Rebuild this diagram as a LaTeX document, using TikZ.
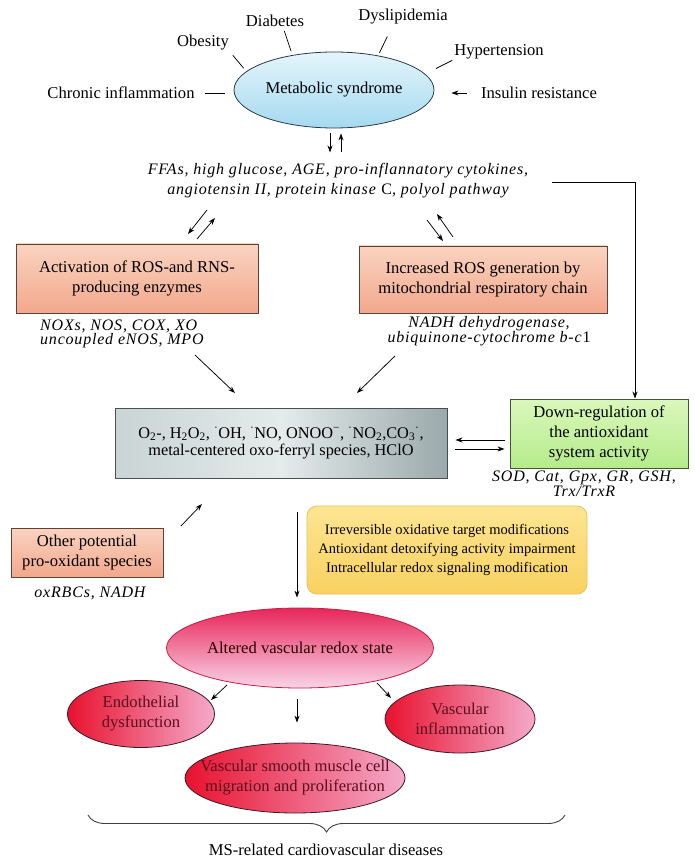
\documentclass[tikz,border=0pt]{standalone}
\usepackage{fontspec}
\setmainfont{Liberation Serif}
\usepackage{xcolor}
\usepackage{tikz}
\usetikzlibrary{positioning, shapes.geometric, arrows.meta, calc, decorations.pathreplacing}

\definecolor{msA}{HTML}{E4F5FC}
\definecolor{msB}{HTML}{A5D9F0}
\definecolor{msedge}{HTML}{2A3A44}
\definecolor{salmonA}{HTML}{FAD3C0}
\definecolor{salmonB}{HTML}{F2A88C}
\definecolor{salmonedge}{HTML}{5E4238}
\definecolor{rosL}{HTML}{C9D4D4}
\definecolor{rosM}{HTML}{E4EBEB}
\definecolor{rosR}{HTML}{9AA9AB}
\definecolor{rosedge}{HTML}{4A4F50}
\definecolor{greenA}{HTML}{DAF8BC}
\definecolor{greenB}{HTML}{B5EB8B}
\definecolor{greenedge}{HTML}{46553A}
\definecolor{yelA}{HTML}{FDE592}
\definecolor{yelB}{HTML}{F8D160}
\definecolor{yeledge}{HTML}{E9C25A}
\definecolor{altA}{HTML}{E8275A}
\definecolor{altB}{HTML}{F6B0D0}
\definecolor{altC}{HTML}{FAD4E8}
\definecolor{altedge}{HTML}{C21E40}
\definecolor{redA}{HTML}{E8122F}
\definecolor{redB}{HTML}{F5AACA}
\definecolor{rededge}{HTML}{3A1A22}
\definecolor{redtext}{HTML}{5A0E1E}

\begin{document}
\begin{tikzpicture}[x=1pt, y=-1pt, font=\fontsize{16.6}{20}\selectfont,
	arr/.style={-{Stealth[length=7pt,width=5pt]}, line width=0.75pt},
	lbl/.style={inner sep=0pt},
	itl/.style={inner sep=0pt, align=center, font=\fontsize{16}{13}\selectfont\itshape\addfontfeature{LetterSpace=5}},
	salmonbox/.style={draw=salmonedge, line width=0.9pt, top color=salmonA, bottom color=salmonB, align=center, inner sep=0pt},
	redell/.style={ellipse, draw=rededge, line width=0.8pt, left color=redA, right color=redB, text=redtext, align=center, inner sep=0pt}]
	\useasboundingbox (0,0) rectangle (694,866);

	% Metabolic syndrome and its parts
	\node[ellipse, draw=msedge, line width=0.8pt, top color=msA, bottom color=msB, minimum width=200pt, minimum height=76pt, inner sep=0pt] (ms) at (334,90) {Metabolic syndrome};
	\node[lbl] (obes) at (203,43) {Obesity};
	\node[lbl] (diab) at (275,21) {Diabetes};
	\node[lbl] (dysl) at (403,17) {Dyslipidemia};
	\node[lbl] (hyper) at (499,52) {Hypertension};
	\node[lbl] (chron) at (121,93) {Chronic inflammation};
	\node[lbl] (insul) at (539,93) {Insulin resistance};
	\node[itl, font=\fontsize{16}{20}\selectfont\itshape\addfontfeature{LetterSpace=5}] (ffa) at (338,181) {FFAs, high glucose, AGE, pro-inflannatory cytokines,\\angiotensin II, protein kinase \textup{C}, polyol pathway};

	% Sources of oxidants
	\node[salmonbox, minimum width=242pt, minimum height=69pt] (act) at (137,278.5) {Activation of ROS-and RNS-\\producing enzymes};
	\node[salmonbox, minimum width=248pt, minimum height=67pt] (mito) at (483,279.5) {Increased ROS generation by\\mitochondrial respiratory chain};
	\node[itl, align=left, anchor=west] (enz) at (40,334) {NOXs, NOS, COX, XO\\uncoupled eNOS, MPO};
	\node[itl, font=\fontsize{16}{12}\selectfont\itshape\addfontfeature{LetterSpace=5}] (nadh) at (489,331) {NADH dehydrogenase,\\ubiquinone-cytochrome b-c\textup{1}};
	\node[draw=rosedge, line width=0.9pt, left color=rosL, right color=rosR, middle color=rosM, minimum width=332pt, minimum height=70pt, align=center, inner sep=0pt, font=\fontsize{16.3}{17}\selectfont] (ros) at (281,443) {O\textsubscript{2}-, H\textsubscript{2}O\textsubscript{2}, \textsuperscript{·}OH, \textsuperscript{·}NO, ONOO\textsuperscript{−}, \textsuperscript{·}NO\textsubscript{2},CO\textsubscript{3}\textsuperscript{·},\\metal-centered oxo-ferryl species, HClO};
	\node[draw=greenedge, line width=0.9pt, top color=greenA, bottom color=greenB, minimum width=178pt, minimum height=69pt, align=center, inner sep=0pt] (down) at (599,433.5) {Down-regulation of\\the antioxidant\\system activity};
	\node[itl, font=\fontsize{16}{15}\selectfont\itshape\addfontfeature{LetterSpace=5}] (sod) at (584,483.5) {SOD, Cat, Gpx, GR, GSH,\\Trx/TrxR};
	\node[salmonbox, minimum width=152pt, minimum height=49pt] (other) at (87,552.5) {Other potential\\pro-oxidant species};
	\node[itl] (oxr) at (90,593) {oxRBCs, NADH};
	\node[draw=yeledge, line width=0.8pt, rounded corners=10pt, top color=yelA, bottom color=yelB, minimum width=280pt, minimum height=88pt, align=center, inner sep=0pt, font=\fontsize{14.5}{19}\selectfont] (eff) at (447,550) {Irreversible oxidative target modifications\\Antioxidant detoxifying activity impairment\\Intracellular redox signaling modification};

	% Vascular outcome
	\node[ellipse, draw=altedge, line width=0.8pt, top color=altA, middle color=altB, bottom color=altC, minimum width=267pt, minimum height=80pt, inner sep=0pt, text=black!85!red] (alt) at (300,648) {Altered vascular redox state};
	\node[redell, minimum width=147pt, minimum height=67pt] (endo) at (141,714) {Endothelial\\dysfunction};
	\node[redell, minimum width=150pt, minimum height=68pt] (infl) at (460,719) {Vascular\\inflammation};
	\node[redell, minimum width=220pt, minimum height=70pt] (vsmc) at (295,778) {\makebox[0pt]{Vascular smooth muscle cell}\\\makebox[0pt]{migration and proliferation}};
	\node[lbl] (msrel) at (326,850) {MS-related cardiovascular diseases};

	% Free ends of the short arrows
	\coordinate (ffaout) at (552,182);
	\coordinate (la1) at (207,210); \coordinate (la2) at (188,234);
	\coordinate (la3) at (197,239); \coordinate (la4) at (215,218);
	\coordinate (ra1) at (427,220); \coordinate (ra2) at (443,241);
	\coordinate (ra3) at (453,237); \coordinate (ra4) at (437,214);
	\coordinate (enzout) at (195,355); \coordinate (enzin) at (235,393);
	\coordinate (nadhout) at (395,356); \coordinate (nadhin) at (357,393);
	\coordinate (othout) at (181,526); \coordinate (othin) at (202,504);
	\coordinate (rosout) at (297,512);
	\coordinate (endoout) at (227,685); \coordinate (endoin) at (211,700);
	\coordinate (vsmcout) at (297,699);
	\coordinate (inflout) at (377,683); \coordinate (inflin) at (391,698);
	\coordinate (bl) at (88,815); \coordinate (br) at (565,815);

	% Connections
	\draw[line width=0.75pt, shorten <=6pt, shorten >=4pt] (obes.south east) -- (ms.168);
	\draw[line width=0.75pt, shorten <=4pt, shorten >=4pt] ([xshift=8pt]diab.south) -- (ms.140);
	\draw[line width=0.75pt, shorten <=13pt, shorten >=3pt] ([xshift=-10pt]dysl.south) -- (ms.38);
	\draw[line width=0.75pt, shorten <=2pt, shorten >=12pt] (hyper.south west) -- (ms.10);
	\draw[line width=0.75pt, shorten <=10pt, shorten >=9pt] (chron.east) -- (chron.east -| ms.west);
	\draw[arr, shorten <=14pt, shorten >=17pt] (insul.west) -- (insul.west -| ms.east);
	\draw[arr, shorten <=5pt, shorten >=11pt] ([xshift=-4pt]ms.south) -- ([xshift=-4pt]ms.south |- ffa.north);
	\draw[arr, shorten <=11pt, shorten >=5pt] ([xshift=7pt]ms.south |- ffa.north) -- ([xshift=7pt]ms.south);
	\draw[arr] (ffaout) -| ([xshift=36pt]down.north);
	\draw[arr] (la1) -- (la2);
	\draw[arr] (la3) -- (la4);
	\draw[arr] (ra1) -- (ra2);
	\draw[arr] (ra3) -- (ra4);
	\draw[arr] (enzout) -- (enzin);
	\draw[arr] (nadhout) -- (nadhin);
	\draw[arr, shorten <=5pt, shorten >=8pt] ([yshift=3pt]ros.east -| down.west) -- ([yshift=3pt]ros.east);
	\draw[arr, shorten <=8pt, shorten >=5pt] ([yshift=-6pt]ros.east) -- ([yshift=-6pt]ros.east -| down.west);
	\draw[arr] (othout) -- (othin);
	\draw[arr, shorten >=10pt] (rosout) -- (rosout |- alt.north);
	\draw[arr] (endoout) -- (endoin);
	\draw[arr, shorten >=20pt] (vsmcout) -- (vsmcout |- vsmc.north);
	\draw[arr] (inflout) -- (inflin);
	\draw[line width=0.9pt, black!75, decorate, decoration={brace, mirror, amplitude=17pt}] (bl) -- (br);
\end{tikzpicture}
\end{document}
